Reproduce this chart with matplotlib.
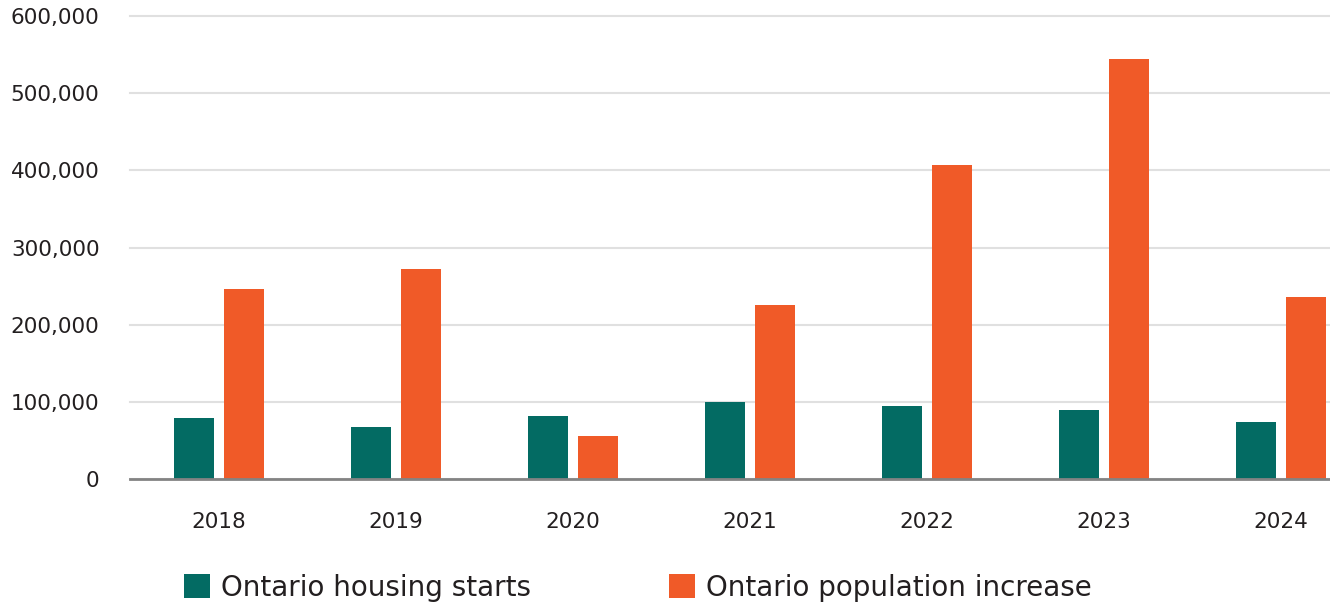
import numpy as np
import matplotlib
matplotlib.use("Agg")
import matplotlib.pyplot as plt
from matplotlib.ticker import FuncFormatter

years = ["2018", "2019", "2020", "2021", "2022", "2023", "2024"]
housing_starts = [78700, 67000, 81200, 99400, 94200, 89000, 73500]
population_increase = [245800, 272000, 55300, 225000, 406300, 543900, 235500]

GREEN = "#036b63"
ORANGE = "#f05a28"
TEXT = "#231f20"

plt.rcParams["font.family"] = ["DejaVu Sans"]

fig = plt.figure(figsize=(13.3, 6.03), dpi=100)
ax = fig.add_axes([130 / 1330, 1 - 479 / 603, 1200 / 1330, 463 / 603])

x = np.arange(len(years))
w = 40 / 177
off = 25 / 177
ax.bar(x - off, housing_starts, width=w, color=GREEN, label="Ontario housing starts", zorder=3)
ax.bar(x + off, population_increase, width=w, color=ORANGE, label="Ontario population increase", zorder=3)

ax.set_xlim(-89 / 177, -89 / 177 + 1200 / 177)
ax.set_ylim(0, 600000)
ax.set_yticks(np.arange(0, 600001, 100000))
ax.yaxis.set_major_formatter(FuncFormatter(lambda v, p: f"{int(v):,}"))
ax.set_xticks(x)
ax.set_xticklabels(years)

ax.grid(axis="y", color="#e0e0e0", linewidth=1.5, zorder=0)
for gl in ax.get_ygridlines():
    gl.set_clip_on(False)
for s in ["top", "right", "left"]:
    ax.spines[s].set_visible(False)
ax.spines["bottom"].set_color("#838383")
ax.spines["bottom"].set_linewidth(2)
ax.spines["bottom"].set_zorder(4)

ax.tick_params(axis="y", length=0, pad=22, labelsize=15.5, labelcolor=TEXT)
ax.tick_params(axis="x", length=0, pad=24, labelsize=15.5, labelcolor=TEXT)

fig.legend(loc="center left", bbox_to_anchor=(170 / 1330, 1 - 588 / 603), ncol=2,
           frameon=False, fontsize=20, handlelength=0.95, handleheight=0.95,
           handletextpad=0.4, columnspacing=4.95, borderpad=0, labelcolor=TEXT)

fig.savefig("out.png", dpi=100)
